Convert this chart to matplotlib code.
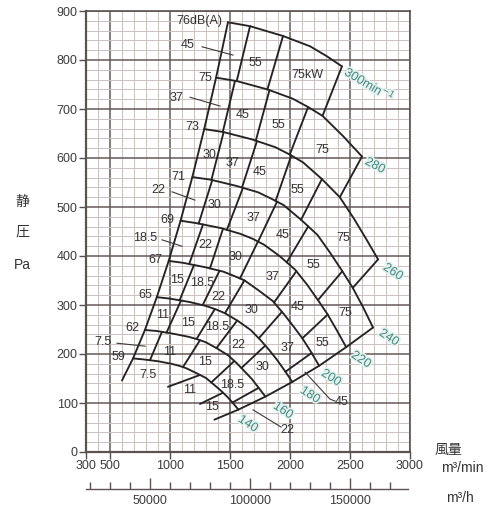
import numpy as np
import matplotlib
matplotlib.use("Agg")
import matplotlib.pyplot as plt
import matplotlib.patheffects as pe
from matplotlib.ticker import MultipleLocator

plt.rcParams['font.family'] = ['Liberation Sans', 'Noto Sans CJK JP', 'DejaVu Sans']

# ---------------- data ----------------
speeds = [300, 280, 260, 240, 220, 200, 180, 160, 140]

# static pressure curves per speed (flow m3/min, pressure Pa)
curve_q = {
    300: [1483, 1667, 1942, 2167, 2305, 2433],
    280: [1384, 1556, 1812, 2023, 2151, 2271, 2441, 2600],
    260: [1285, 1445, 1683, 1878, 1998, 2109, 2266, 2415, 2531, 2639, 2734],
    240: [1186, 1334, 1554, 1734, 1844, 1946, 2092, 2229, 2336, 2436, 2523, 2608, 2692],
    220: [1088, 1222, 1424, 1589, 1690, 1784, 1918, 2043, 2141, 2233, 2313, 2391, 2468],
    200: [989, 1111, 1295, 1445, 1537, 1622, 1743, 1857, 1947, 2030, 2103, 2173, 2243],
    180: [890, 1000, 1165, 1300, 1383, 1460, 1569, 1672, 1752, 1827, 1892, 1956, 2019],
    160: [791, 889, 1036, 1156, 1229, 1298, 1395, 1486, 1557, 1624, 1682, 1739, 1795],
    140: [692, 778, 906, 1011, 1076, 1135, 1220, 1300, 1363, 1421, 1472, 1521, 1570],
}
curve_p = {
    300: [877, 869, 849, 828, 808, 787],
    280: [764, 757, 740, 721, 704, 686, 645, 603],
    260: [659, 653, 638, 622, 607, 591, 557, 520, 477, 433, 393],
    240: [561, 556, 543, 530, 517, 504, 474, 443, 406, 369, 335, 296, 254],
    220: [472, 467, 457, 445, 435, 423, 399, 372, 342, 310, 281, 248, 214],
    200: [390, 386, 377, 368, 359, 350, 329, 308, 282, 256, 232, 205, 176],
    180: [316, 313, 306, 298, 291, 283, 267, 249, 229, 208, 188, 166, 143],
    160: [249, 247, 241, 235, 230, 224, 211, 197, 181, 164, 149, 131, 113],
    140: [191, 189, 185, 180, 176, 171, 161, 151, 138, 126, 114, 101, 86.5],
}

# surge-side limit and maximum-flow limit
surge_q = [1483, 1384, 1285, 1186, 1088, 989, 890, 791, 692, 600]
surge_p = [877, 764, 659, 561, 472, 390, 316, 249, 191, 146]
limit_q = [2692, 2468, 2243, 2019, 1795, 1570, 1370]
limit_p = [254, 214, 176, 143, 113, 86.5, 66]

# motor-size boundaries between neighbouring speed curves:
# (flow on upper curve, flow on lower curve)
dividers = {
    (300, 280): [(1667, 1556), (1942, 1812), (2433, 2271)],
    (280, 260): [(1542, 1440), (1829, 1715), (2151, 1998), (2600, 2415)],
    (260, 240): [(1447, 1345), (1725, 1600), (2011, 1880), (2266, 2092), (2734, 2523)],
    (240, 220): [(1352, 1239), (1608, 1474), (1892, 1734), (2152, 1973), (2436, 2233)],
    (220, 200): [(1275, 1160), (1442, 1333), (1733, 1583), (2053, 1867), (2314, 2103)],
    (200, 180): [(1200, 1080), (1413, 1272), (1620, 1458), (1933, 1740), (2180, 1962)],
    (180, 160): [(1092, 971), (1374, 1221), (1560, 1387), (1794, 1595)],
    (160, 140): [(933, 833), (1250, 1108), (1536, 1344), (1739, 1521)],
}
# boundaries below the 140 curve: (flow on 140 curve, end flow, end pressure)
tail_140 = [(1250, 983, 133), (1442, 1250, 98)]

# motor output labels (kW)
kw_text = ["55", "75kW", "45", "55", "75", "30", "37", "45", "55", "75",
           "30", "37", "45", "55", "75", "22", "30", "37", "45", "55",
           "15", "18.5", "22", "30", "37", "11", "15", "18.5", "22", "30",
           "11", "15", "18.5", "7.5", "11", "15"]
kw_q = [1708, 2142, 1608, 1900, 2267, 1333, 1517, 1750, 2058, 2442,
        1375, 1692, 1942, 2192, 2458, 1292, 1542, 1850, 2067, 2267,
        1058, 1267, 1400, 1683, 1983, 942, 1150, 1392, 1567, 1775,
        1000, 1292, 1517, 817, 1167, 1350]
kw_p = [794, 769, 688, 667, 616, 606, 590, 571, 535, 437,
        504, 478, 443, 382, 284, 422, 398, 357, 296, 222,
        351, 345, 316, 290, 212, 280, 263, 255, 218, 173,
        204, 184, 137, 157, 127, 92]

# labels placed outside narrow cells, with leader lines
lead_text = ["45", "37", "22", "18.5", "7.5", "45", "22"]
lead_pos = [(1150, 831), (1058, 722), (900, 535), (792, 437), (442, 224), (2433, 102), (1975, 45)]
lead_lines = [
    [(1267, 827), (1525, 810)],
    [(1167, 724), (1417, 706)],
    [(1017, 531), (1208, 514)],
    [(933, 433), (1100, 420)],
    [(558, 222), (792, 216)],
    [(2125, 163), (2333, 108), (2375, 104)],
    [(1692, 86), (1925, 51)],
]

# noise level at the surge end of each speed curve, dB(A)
db_text = ["76dB(A)", "75", "73", "71", "69", "67", "65", "62", "59"]
db_q = [1242, 1292, 1183, 1067, 975, 875, 792, 683, 567]
db_p = [880, 763, 663, 561, 473, 392, 320, 253, 194]

# speed labels
spd_text = ["300min$^{-1}$", "280", "260", "240", "220", "200", "180", "160", "140"]
spd_q = [2667, 2708, 2858, 2825, 2592, 2342, 2167, 1942, 1650]
spd_p = [751, 584, 367, 233, 188, 151, 116, 84, 57]
spd_rot = [-31, -28, -33, -33, -33, -33, -33, -33, -33]

x_ticks = [300, 500, 1000, 1500, 2000, 2500, 3000]
y_ticks = list(range(0, 1000, 100))
h_ticks = [50000, 100000, 150000]

# ---------------- drawing ----------------
fig = plt.figure(figsize=(4.93, 5.14), dpi=100)
ax = fig.add_axes([86 / 493, 1 - 452 / 514, 324 / 493, 441 / 514])
ax.set_xlim(300, 3000)
ax.set_ylim(0, 900)

ax.xaxis.set_minor_locator(MultipleLocator(100))
ax.yaxis.set_minor_locator(MultipleLocator(20))
ax.grid(which='minor', color='#cdc1c0', lw=0.7)
ax.grid(which='major', color='#665858', lw=1.1)
ax.set_axisbelow(True)
ax.set_xticks(x_ticks)
ax.set_yticks(y_ticks)
ax.tick_params(which='minor', length=0)
ax.tick_params(which='major', length=5, width=1.0, color='#555050',
               labelsize=9, labelcolor='#3c3c3c', pad=1)
for s in ax.spines.values():
    s.set_color('#5c5250')
    s.set_linewidth(1.2)
ax.spines['left'].set_linewidth(1.6)
ax.spines['bottom'].set_linewidth(1.6)

line_kw = dict(color='#252323', lw=1.35, solid_capstyle='round', zorder=3)
for n in speeds:
    ax.plot(curve_q[n], curve_p[n], **line_kw)
ax.plot(surge_q, surge_p, **line_kw)
ax.plot(limit_q, limit_p, **line_kw)
for (u, l), segs in dividers.items():
    for qu, ql in segs:
        pu = np.interp(qu, curve_q[u], curve_p[u])
        pl = np.interp(ql, curve_q[l], curve_p[l])
        ax.plot([qu, ql], [pu, pl], **line_kw)
for qu, qe, pe_ in tail_140:
    pu = np.interp(qu, curve_q[140], curve_p[140])
    ax.plot([qu, qe], [pu, pe_], **line_kw)

txt_kw = dict(fontsize=9, color='#333333', ha='center', va='center', zorder=4)
for t, q, p in zip(kw_text, kw_q, kw_p):
    ax.text(q, p, t, **txt_kw)
for t, (q, p), pts in zip(lead_text, lead_pos, lead_lines):
    ax.text(q, p, t, **txt_kw)
    xs, ys = zip(*pts)
    ax.plot(xs, ys, color='#3a3a3a', lw=0.8, zorder=3)
for t, q, p in zip(db_text, db_q, db_p):
    ax.text(q, p, t, **txt_kw)

halo = [pe.withStroke(linewidth=2.5, foreground='#e6f0ee')]
for t, q, p, r in zip(spd_text, spd_q, spd_p, spd_rot):
    ax.text(q, p, t, fontsize=9, color='#3e8a80', rotation=r, ha='center',
            va='center', rotation_mode='anchor', path_effects=halo, zorder=5)

# secondary flow scale in m3/h
ax2 = fig.add_axes([86 / 493, 1 - 489 / 514, 322 / 493, 0.0001])
ax2.set_xlim(300 * 60, 2983 * 60)
ax2.set_yticks([])
for side in ('left', 'right', 'top'):
    ax2.spines[side].set_visible(False)
ax2.spines['bottom'].set_color('#5c5250')
ax2.spines['bottom'].set_linewidth(1.0)
ax2.set_xticks(h_ticks)
ax2.set_xticklabels([str(v) for v in h_ticks])
ax2.xaxis.set_minor_locator(MultipleLocator(10000))
ax2.tick_params(which='major', direction='in', length=8, width=1.0, color='#5c5250',
                labelsize=9, labelcolor='#3c3c3c', pad=4)
ax2.tick_params(which='minor', direction='in', length=5, width=1.0, color='#5c5250')

# axis titles
fig.text(22 / 493, 1 - 202 / 514, "静", fontsize=10, color='#333333', ha='center', va='center')
fig.text(22 / 493, 1 - 232 / 514, "圧", fontsize=10, color='#333333', ha='center', va='center')
fig.text(22 / 493, 1 - 265 / 514, "Pa", fontsize=10, color='#333333', ha='center', va='center')
fig.text(448 / 493, 1 - 450 / 514, "風量", fontsize=10, color='#333333', ha='center', va='center')
fig.text(462 / 493, 1 - 468 / 514, "m³/min", fontsize=10, color='#333333', ha='center', va='center')
fig.text(460 / 493, 1 - 498 / 514, "m³/h", fontsize=10, color='#333333', ha='center', va='center')

fig.savefig("out.png", dpi=100, facecolor='white')
